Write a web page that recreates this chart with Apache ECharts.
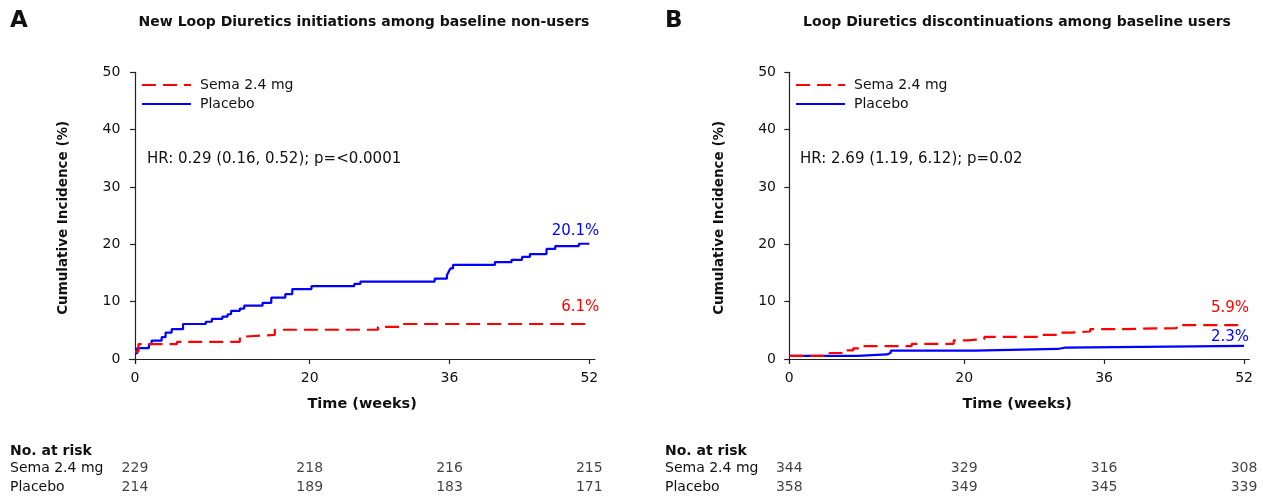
<!DOCTYPE html>
<html>
<head>
<meta charset="utf-8">
<script src="https://cdn.jsdelivr.net/npm/echarts@6/dist/echarts.min.js"></script>
<style>
html,body{margin:0;padding:0;background:#fff;}
#chart{width:1263px;height:497px;}
</style>
</head>
<body>
<div id="chart"></div>
<script>
// ---- Data ----
const seriesNames = ['Sema 2.4 mg', 'Placebo'];
const xTicks = [0, 20, 36, 52];
const yTicks = [0, 10, 20, 30, 40, 50];

// Panel A: New loop diuretics initiations among baseline non-users
const titleA = 'New Loop Diuretics initiations among baseline non-users';
const hrA = 'HR: 0.29 (0.16, 0.52); p=<0.0001';
const semaA = [[0,1.3],[0.4,2.6],[4.8,3.0],[12.0,3.9],[12.4,4.2],[16.0,5.1],[27.8,5.6],[30.4,6.1],[52,6.1]];
const placeboA = [[0,1.0],[0.25,1.9],[1.6,2.6],[1.9,3.2],[3.05,3.8],[3.5,4.6],[4.2,5.2],[5.5,6.1],[8.1,6.5],[8.8,7.0],[10.0,7.4],[10.6,7.8],[11.0,8.4],[12.0,8.8],[12.5,9.3],[14.6,9.8],[15.6,10.7],[17.2,11.3],[18.0,12.2],[20.2,12.7],[25.1,13.1],[25.8,13.5],[34.3,14.0],[35.7,14.6],[35.9,15.2],[36.1,15.8],[36.4,16.4],[41.2,16.9],[43.1,17.3],[44.3,17.8],[45.2,18.3],[47.1,19.2],[48.1,19.7],[50.8,20.1],[52,20.1]];
const endLabelsA = ['6.1%', '20.1%'];
const riskSemaA = [229, 218, 216, 215];
const riskPlaceboA = [214, 189, 183, 171];

// Panel B: Loop diuretics discontinuations among baseline users
const titleB = 'Loop Diuretics discontinuations among baseline users';
const hrB = 'HR: 2.69 (1.19, 6.12); p=0.02';
const semaB = [[0,0.55],[4.6,1.05],[6.6,1.5],[7.3,1.85],[8.3,2.25],[14.0,2.65],[18.8,3.25],[20.3,3.5],[22.3,3.85],[28.9,4.2],[30.7,4.6],[32.1,4.8],[34.4,5.2],[37.8,5.4],[44.3,5.9],[52,5.9]];
const placeboB = [[0,0.55],[7.8,0.8],[11.2,1.1],[11.6,1.45],[21.2,1.75],[30.7,2.0],[31.6,2.3],[52,2.3]];
const endLabelsB = ['5.9%', '2.3%'];
const riskSemaB = [344, 329, 316, 308];
const riskPlaceboB = [358, 349, 345, 339];

// ---- Styling ----
const FONT = "'DejaVu Sans', Verdana, sans-serif";
const RED = '#ff0000', BLUE = '#0000ff', INK = '#111';

const chart = echarts.init(document.getElementById('chart'), null, {renderer: 'canvas'});

function panelAxes(gridIdx, xmin, xmax) {
  return {
    x: {
      type: 'value', gridIndex: gridIdx, min: xmin, max: xmax,
      name: 'Time (weeks)', nameLocation: 'middle', nameGap: 33,
      nameTextStyle: {fontFamily: FONT, fontSize: 14.5, fontWeight: 'bold', color: INK},
      axisLine: {show: true, lineStyle: {color: '#222', width: 1.2}},
      axisTick: {show: true, length: 5, customValues: xTicks, lineStyle: {color: '#222', width: 1.2}},
      axisLabel: {customValues: xTicks, margin: 8, fontFamily: FONT, fontSize: 14, color: INK},
      splitLine: {show: false}
    },
    y: {
      type: 'value', gridIndex: gridIdx, min: -0.75, max: 50,
      name: 'Cumulative Incidence (%)', nameLocation: 'middle', nameGap: 59,
      nameTextStyle: {fontFamily: FONT, fontSize: 13.5, fontWeight: 'bold', color: INK},
      axisLine: {show: true, lineStyle: {color: '#222', width: 1.2}},
      axisTick: {show: true, length: 5, customValues: yTicks, lineStyle: {color: '#222', width: 1.2}},
      axisLabel: {customValues: yTicks, margin: 9, fontFamily: FONT, fontSize: 14, color: INK},
      splitLine: {show: false}
    }
  };
}

function riskAxes(gridIdx, xmin, xmax, margin) {
  return {
    x: {type: 'value', gridIndex: gridIdx, min: xmin, max: xmax, show: false},
    y: {
      type: 'category', gridIndex: gridIdx, inverse: true, data: seriesNames,
      axisLine: {show: false}, axisTick: {show: false}, splitLine: {show: false},
      axisLabel: {align: 'left', margin: margin, fontFamily: FONT, fontSize: 14, color: INK}
    }
  };
}

const aAx = panelAxes(0, -0.65, 52.65);
const bAx = panelAxes(1, -0.49, 52.6);
const aR = riskAxes(2, -0.65, 52.65, 119.3);
const bR = riskAxes(3, -0.49, 52.6, 120);

function curve(name, data, xi, color, dashed, label, dist, offX) {
  const last = data[data.length - 1];
  return {
    type: 'line', name: name, xAxisIndex: xi, yAxisIndex: xi, step: 'end',
    symbol: 'none', showSymbol: false, animation: false,
    lineStyle: {color: color, width: 2.2, type: dashed ? [14, 7] : 'solid'},
    itemStyle: {color: color},
    data: data,
    markPoint: {
      symbol: 'circle', symbolSize: 0, animation: false, silent: true,
      data: [{coord: last, value: label}],
      label: {show: true, position: 'top', distance: dist, align: 'right', offset: [offX, 0],
              formatter: label, color: color, fontFamily: FONT, fontSize: 15}
    },
    z: dashed ? 3 : 2
  };
}

function riskSeries(xi, sema, placebo) {
  const d = [];
  xTicks.forEach((t, i) => { d.push([t, 0, sema[i]]); d.push([t, 1, placebo[i]]); });
  return {
    type: 'scatter', xAxisIndex: xi, yAxisIndex: xi, symbolSize: 0, animation: false,
    data: d,
    label: {show: true, position: 'inside', formatter: p => String(p.value[2]),
            fontFamily: FONT, fontSize: 14, color: INK}
  };
}

const legendCommon = {
  orient: 'vertical', itemWidth: 49, itemHeight: 14, itemGap: 5, padding: 0,
  data: seriesNames, selectedMode: false,
  itemStyle: {opacity: 0},
  textStyle: {fontFamily: FONT, fontSize: 14, color: INK, padding: [0, 0, 0, 4]}
};

const T = (text, left, top, size, weight, extra) => Object.assign({
  text: text, left: left, top: top, padding: 0,
  textStyle: {fontFamily: FONT, fontSize: size, fontWeight: weight, color: INK}
}, extra || {});

const option = {
  backgroundColor: '#fff',
  animation: false,
  title: [
    T('A', 10, 10, 23, 'bold'),
    T('B', 665, 10, 23, 'bold'),
    T(titleA, 364, 15, 14, 'bold', {textAlign: 'center'}),
    T(titleB, 1017, 15, 14, 'bold', {textAlign: 'center'}),
    T(hrA, 147, 152, 15, 'normal'),
    T(hrB, 800, 152, 15, 'normal'),
    T('No. at risk', 10, 444, 14, 'bold'),
    T('No. at risk', 665, 444, 14, 'bold')
  ],
  legend: [
    Object.assign({left: 141, top: 78}, legendCommon),
    Object.assign({left: 795, top: 78}, legendCommon)
  ],
  grid: [
    {left: 129.3, top: 72.3, width: 465.7, height: 291},
    {left: 785, top: 72.3, width: 464.3, height: 291},
    {left: 129.3, top: 459, width: 465.7, height: 38},
    {left: 785, top: 459, width: 464.3, height: 38}
  ],
  xAxis: [aAx.x, bAx.x, aR.x, bR.x],
  yAxis: [aAx.y, bAx.y, aR.y, bR.y],
  series: [
    curve(seriesNames[1], placeboA, 0, BLUE, false, endLabelsA[1], 5, 10),
    curve(seriesNames[0], semaA, 0, RED, true, endLabelsA[0], 9, 10),
    curve(seriesNames[1], placeboB, 1, BLUE, false, endLabelsB[1], 1, 5),
    curve(seriesNames[0], semaB, 1, RED, true, endLabelsB[0], 10, 5),
    riskSeries(2, riskSemaA, riskPlaceboA),
    riskSeries(3, riskSemaB, riskPlaceboB)
  ]
};
chart.setOption(option);
</script>
</body>
</html>
